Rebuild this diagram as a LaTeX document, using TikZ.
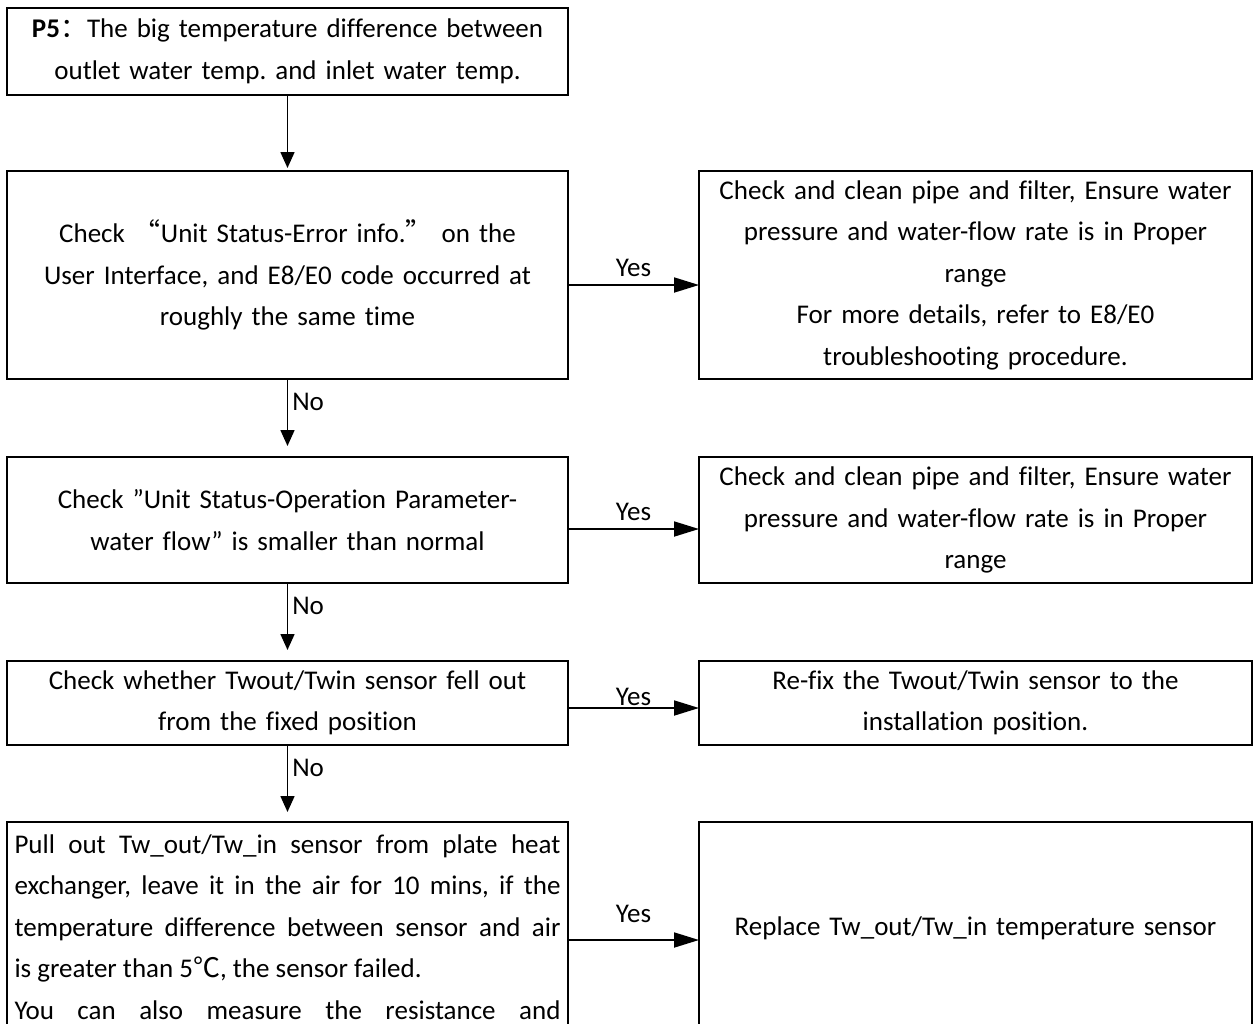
\documentclass[tikz,border=0pt]{standalone}
\usepackage{fontspec}
\setmainfont{Carlito}[Ligatures={NoCommon}]
\newfontfamily\cjk{Noto Sans CJK SC}
\usetikzlibrary{arrows.meta, positioning}
\frenchspacing

\begin{document}
\begin{tikzpicture}[x=1pt, y=1pt,
    font=\fontsize{13.5}{20.75}\selectfont,
    box/.style={draw, line width=1.2pt, outer sep=0pt, inner sep=3.5pt, align=center},
    leftbox/.style={box, minimum width=280.5pt, text width=273pt},
    rightbox/.style={box, minimum width=276.5pt, text width=269.5pt},
    noarrow/.style={-{Triangle[length=8pt, width=7pt]}, line width=0.8pt},
    yesarrow/.style={-{Triangle[length=12.5pt, width=7.5pt]}, line width=0.9pt},
    yes/.style={midway, above, inner sep=3.5pt},
    no/.style={pos=0.3, right, inner sep=2pt}]

    % Frame
    \useasboundingbox (0,0) rectangle (627.5,-512);
    \clip (0,0) rectangle (627.5,-512);

    % Left column
    \node (p5) [leftbox, minimum height=43.5pt] at (143.75,-25.75) {\textbf{P5}{\cjk ：}The big temperature difference between\\outlet water temp. and inlet water temp.};
    \node (chkerr) [leftbox, minimum height=104pt] at (143.75,-137.5) {Check {\cjk “}Unit Status-Error info.{\cjk ”} on the\\User Interface, and E8/E0 code occurred at\\roughly the same time};
    \node (chkflow) [leftbox, minimum height=63pt] at (143.75,-260) {Check ”Unit Status-Operation Parameter-\\water flow” is smaller than normal};
    \node (chksensor) [leftbox, minimum height=42pt] at (143.75,-351.5) {Check whether Twout/Twin sensor fell out\\from the fixed position};
    \node (pullout) [leftbox, minimum height=106pt] at (143.75,-464) {};
    \node (pullouttext) [below=6pt of pullout.north, text width=273pt, align=justify, inner sep=0pt] {%
        Pull out Tw\_out/Tw\_in sensor from plate heat\linebreak
        exchanger, leave it in the air for 10 mins, if the\linebreak
        temperature difference between sensor and air\linebreak
        is greater than 5{\cjk ℃}, the sensor failed.\par
        You can also measure the resistance and\linebreak};

    % Right column
    \node (fixpipe) [rightbox, minimum height=104pt, right=65.5pt of chkerr] {Check and clean pipe and filter, Ensure water\\pressure and water-flow rate is in Proper\\range\\For more details, refer to E8/E0\\troubleshooting procedure.};
    \node (fixflow) [rightbox, minimum height=63pt, right=65.5pt of chkflow] {Check and clean pipe and filter, Ensure water\\pressure and water-flow rate is in Proper\\range};
    \node (refix) [rightbox, minimum height=42pt, right=65.5pt of chksensor] {Re-fix the Twout/Twin sensor to the\\installation position.};
    \node (replace) [rightbox, minimum height=106pt, right=65.5pt of pullout] {Replace Tw\_out/Tw\_in temperature sensor};

    % No branches
    \draw[noarrow, shorten >=1.5pt] (p5) -- (chkerr);
    \draw[noarrow, shorten >=5.5pt] (chkerr) -- node[no] {No} (chkflow);
    \draw[noarrow, shorten >=5.5pt] (chkflow) -- node[no] {No} (chksensor);
    \draw[noarrow, shorten >=5pt] (chksensor) -- node[no] {No} (pullout);

    % Yes branches
    \draw[yesarrow] ([yshift=-5pt]chkerr.east) -- node[yes] {Yes} ([yshift=-5pt]fixpipe.west);
    \draw[yesarrow] ([yshift=-4.5pt]chkflow.east) -- node[yes] {Yes} ([yshift=-4.5pt]fixflow.west);
    \draw[yesarrow] ([yshift=-2.5pt]chksensor.east) -- node[yes, inner sep=0.5pt] {Yes} ([yshift=-2.5pt]refix.west);
    \draw[yesarrow] ([yshift=-6pt]pullout.east) -- node[yes, above=4.5pt] {Yes} ([yshift=-6pt]replace.west);
\end{tikzpicture}
\end{document}
